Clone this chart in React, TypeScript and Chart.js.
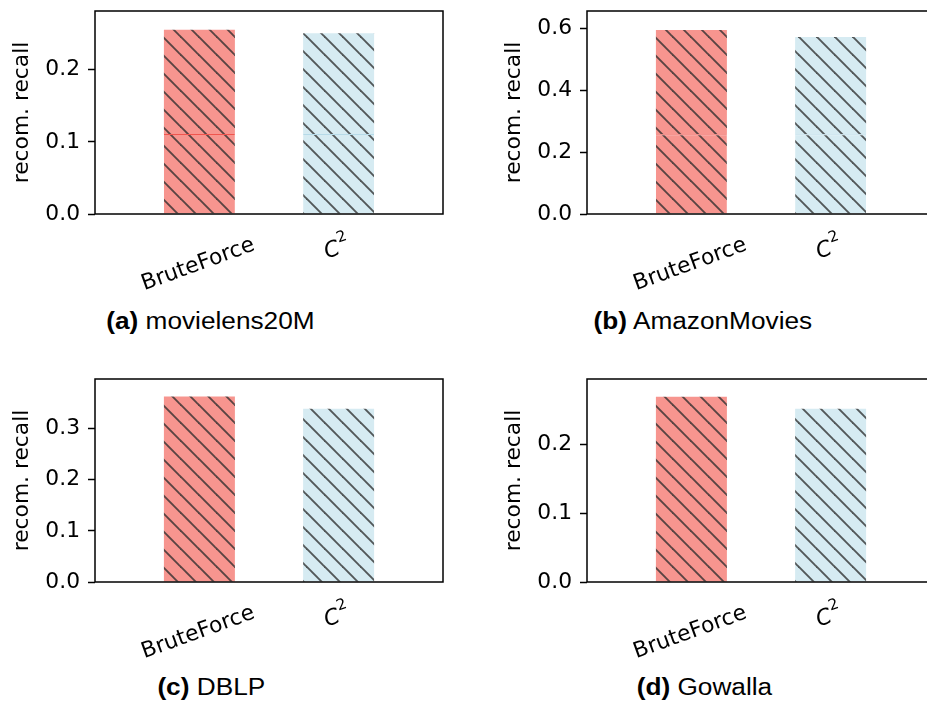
import React, { useEffect, useRef } from "react";
import { Chart, registerables } from "chart.js";

Chart.register(...registerables);

// ---- data ----
const categories = ["BruteForce", "C^2"];
const panelLetters = ["(a)", "(b)", "(c)", "(d)"];
const panelNames = ["movielens20M", "AmazonMovies", "DBLP", "Gowalla"];

const totalA = [0.2555, 0.2507];
const lowerA = [0.111, 0.111];
const totalB = [0.5945, 0.572];
const lowerB = [0.258, 0.258];
const totalC = [0.3626, 0.3386];
const lowerC = [0.1566, 0.1566];
const totalD = [0.2693, 0.2519];
const lowerD = [0.1163, 0.1163];

const yMaxes = [0.2816, 0.656, 0.397, 0.295];
const ySteps = [0.1, 0.2, 0.1, 0.1];
const yTitle = "recom. recall";

// ---- styles ----
const barColors = ["#F7958F", "#D6EBF2"];
const boundaryColors: (string[] | null)[] = [
  ["#F0554E", "#B6DAE8"],
  ["#F0554E", "#B6DAE8"],
  null,
  null,
];
const FS = 21.8;
const TICK_FONT = { family: "'DejaVu Sans'", size: FS };

function makeHatch(bg: string): CanvasPattern | string {
  const s = 18;
  const c = document.createElement("canvas");
  c.width = s;
  c.height = s;
  const g = c.getContext("2d");
  if (!g) return bg;
  g.fillStyle = bg;
  g.fillRect(0, 0, s, s);
  g.strokeStyle = "rgba(45,45,45,0.78)";
  g.lineWidth = 1.9;
  for (const k of [-1, 0, 1]) {
    g.beginPath();
    g.moveTo(-3, -3 + k * s);
    g.lineTo(s + 3, s + 3 + k * s);
    g.stroke();
  }
  return g.createPattern(c, "repeat") || bg;
}

const framePlugin = {
  id: "frame",
  afterDraw(chart: any) {
    const { ctx, chartArea: a } = chart;
    ctx.save();
    ctx.strokeStyle = "#000";
    ctx.lineWidth = 1.5;
    ctx.strokeRect(a.left, a.top, a.right - a.left, a.bottom - a.top);
    ctx.restore();
  },
};

const xLabelPlugin = {
  id: "xlabels",
  afterDraw(chart: any) {
    const { ctx, chartArea } = chart;
    const xs = chart.scales.x;
    const ang = (20 * Math.PI) / 180;
    categories.forEach((cat, i) => {
      const px = xs.getPixelForValue(i);
      const parts = cat.split("^");
      const base = parts[0];
      const sup = parts[1];
      ctx.save();
      ctx.fillStyle = "#000";
      const baseFont = sup
        ? `italic ${FS}px 'DejaVu Sans'`
        : `${FS}px 'DejaVu Sans'`;
      const supFont = `${FS * 0.7}px 'DejaVu Sans'`;
      ctx.font = baseFont;
      const wBase = ctx.measureText(base).width;
      let wSup = 0;
      if (sup) {
        ctx.font = supFont;
        wSup = ctx.measureText(sup).width + 1;
      }
      const w = wBase + wSup;
      const H = w * Math.sin(ang) + 0.77 * FS;
      const cx = px - 2;
      const cy = chartArea.bottom + 20 + H / 2;
      ctx.translate(cx, cy);
      ctx.rotate(-ang);
      ctx.textAlign = "left";
      ctx.textBaseline = "alphabetic";
      ctx.font = baseFont;
      ctx.fillText(base, -w / 2, 0.36 * FS);
      if (sup) {
        ctx.font = supFont;
        ctx.fillText(sup, -w / 2 + wBase + 1, 0.36 * FS - 0.5 * FS);
      }
      ctx.restore();
    });
  },
};

function zeroPad(scale: any) {
  scale.paddingTop = 0;
  scale.paddingBottom = 0;
  scale.paddingLeft = 0;
  scale.paddingRight = 0;
}

function Panel(props: {
  idx: number;
  total: number[];
  lower: number[];
  left: number;
  top: number;
}) {
  const ref = useRef<HTMLCanvasElement | null>(null);
  const { idx, total, lower, left, top } = props;
  useEffect(() => {
    if (!ref.current) return;
    const fills = barColors.map((c) => makeHatch(c));
    const bcol = boundaryColors[idx];
    const lowerData = lower.map((v, i) => ({ x: i, y: v }));
    const upperData = total.map((v, i) => ({ x: i, y: v - lower[i] }));
    const chart = new Chart(ref.current, {
      type: "bar",
      data: {
        datasets: [
          {
            data: lowerData as any,
            backgroundColor: fills as any,
            borderColor: bcol ? bcol : "rgba(0,0,0,0)",
            borderWidth: bcol ? { top: 1, left: 0, right: 0, bottom: 0 } : 0,
            borderSkipped: false,
            barPercentage: 0.51,
            categoryPercentage: 1,
          },
          {
            data: upperData as any,
            backgroundColor: fills as any,
            borderWidth: 0,
            barPercentage: 0.51,
            categoryPercentage: 1,
          },
        ],
      },
      options: {
        animation: false,
        responsive: false,
        events: [],
        layout: { padding: { left: 0, top: 11, right: 20, bottom: 0 } },
        plugins: {
          legend: { display: false },
          tooltip: { enabled: false },
          title: { display: false },
        },
        scales: {
          x: {
            type: "linear",
            stacked: true,
            offset: false,
            min: -0.75,
            max: 1.75,
            grid: { display: false },
            border: { display: false },
            ticks: { display: false },
            afterBuildTicks: (scale: any) => {
              scale.ticks = categories.map((_, i) => ({ value: i }));
            },
            afterFit: (scale: any) => {
              scale.height = 86;
              zeroPad(scale);
            },
          },
          y: {
            type: "linear",
            stacked: true,
            min: 0,
            max: yMaxes[idx],
            border: { display: false },
            grid: {
              display: true,
              drawOnChartArea: false,
              drawTicks: true,
              tickLength: 7,
              tickWidth: 1.5,
              tickColor: "#000",
            },
            ticks: {
              stepSize: ySteps[idx],
              includeBounds: false,
              padding: 8,
              color: "#000",
              font: TICK_FONT,
              callback: (v: any) => Number(v).toFixed(1),
            },
            title: {
              display: true,
              text: yTitle,
              color: "#000",
              font: TICK_FONT,
              padding: { top: 9.5, bottom: 0 },
            },
            afterFit: (scale: any) => {
              scale.width = 95;
              zeroPad(scale);
            },
          },
        },
      },
      plugins: [framePlugin, xLabelPlugin],
    } as any);
    return () => chart.destroy();
  }, []);
  return (
    <canvas
      ref={ref}
      width={463}
      height={300}
      style={{
        position: "absolute",
        left,
        top,
        width: 463,
        height: 300,
        display: "block",
      }}
    />
  );
}

function Caption(props: { idx: number; cx: number; baseline: number }) {
  const { idx, cx, baseline } = props;
  return (
    <div
      style={{
        position: "absolute",
        left: cx - 200,
        width: 400,
        top: baseline - 19.5,
        textAlign: "center",
        fontFamily: "'Liberation Sans', Arial, sans-serif",
        fontSize: 23,
        lineHeight: "23px",
        color: "#000",
        whiteSpace: "nowrap",
      }}
    >
      <span
        style={{
          display: "inline-block",
          transform: "scaleX(1.14)",
          transformOrigin: "center",
        }}
      >
        <b>{panelLetters[idx]}</b> {panelNames[idx]}
      </span>
    </div>
  );
}

export default function App() {
  return (
    <div
      style={{
        position: "absolute",
        left: 0,
        top: 0,
        width: 927,
        height: 704,
        overflow: "hidden",
        background: "#fff",
      }}
    >
      <Panel idx={0} total={totalA} lower={lowerA} left={0} top={0} />
      <Panel idx={1} total={totalB} lower={lowerB} left={492} top={0} />
      <Panel idx={2} total={totalC} lower={lowerC} left={0} top={368} />
      <Panel idx={3} total={totalD} lower={lowerD} left={492} top={368} />
      <Caption idx={0} cx={210} baseline={329} />
      <Caption idx={1} cx={703} baseline={329} />
      <Caption idx={2} cx={211} baseline={695} />
      <Caption idx={3} cx={704} baseline={695} />
    </div>
  );
}
